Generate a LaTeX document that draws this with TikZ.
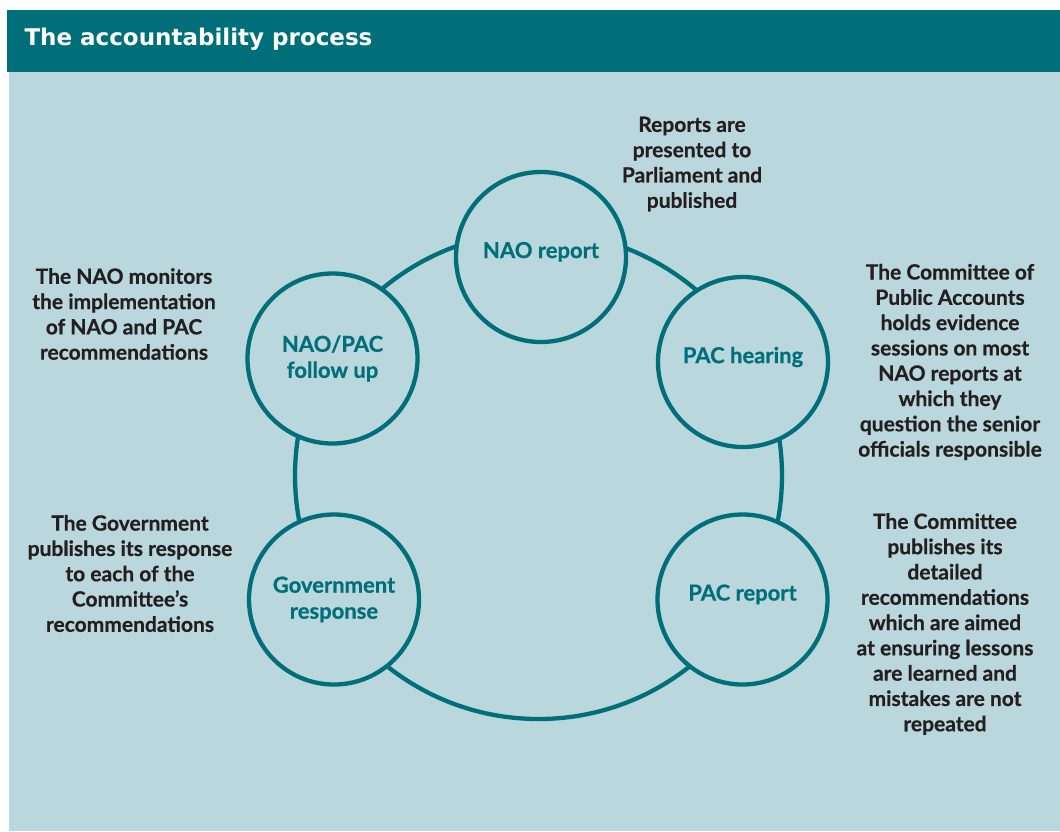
\documentclass[tikz,border=0pt]{standalone}
\usepackage{fontspec}
\setmainfont{Lato}[BoldFeatures={FakeBold=0.6}]
\newfontfamily\headfont{DejaVu Sans}
\usepackage{tikz}
\definecolor{naoteal}{RGB}{0,111,121}
\definecolor{naopale}{RGB}{186,215,221}
\definecolor{naoink}{RGB}{35,31,32}
\tikzstyle{stage} = [circle, draw=naoteal, line width=4.3pt, fill=naopale,
                 minimum size=170pt, inner sep=0pt, text=naoteal, align=center,
                 font=\bfseries\fontsize{22}{26}\selectfont]
\tikzstyle{cycle} = [naoteal, line width=4.3pt]
\tikzset{
	oneline/.style={text depth=14pt},
	note/.style={text=naoink, align=center,
		font=\bfseries\fontsize{21}{25.3}\selectfont},
}

\begin{document}
\begin{tikzpicture}[x=1pt, y=-1pt]
\useasboundingbox (0,0) rectangle (1060,831);

% panel and title bar
\fill[naopale] (9,72) rectangle (1060,831);
\fill[naoteal] (7,10) rectangle (1060,72);
\node[anchor=west, text=white, font=\headfont\bfseries\fontsize{23}{27}\selectfont]
	(title) at (21,39) {The accountability process};

% ring behind the stages
\coordinate (hub) at (538.5,475.5);
\path[cycle, draw] (hub) circle (243.5pt);

\node [stage, oneline] at (541,257) (nao) {NAO report};
\node [stage, oneline] at (743,362) (hearing) {PAC hearing};
\node [stage, oneline] at (742.5,599.5) (pacrep) {PAC report};
\node [stage] at (334,599.5) (govresp) {Government\\response};
\node [stage] at (332.5,358.5) (followup) {NAO/PAC\\follow up};

% notes
\node [note] at (692,164) (naonote) {Reports are\\presented to\\Parliament and\\published};
\node [note] at (950,362) (hearingnote) {The Committee of\\Public Accounts\\holds evidence\\sessions on most\\NAO reports at\\which they\\question the senior\\officials responsible};
\node [note] at (945,624) (pacrepnote) {The Committee\\publishes its\\detailed\\recommendations\\which are aimed\\at ensuring lessons\\are learned and\\mistakes are not\\repeated};
\node [note] at (130,573.5) (govnote) {The Government\\publishes its response\\to each of the\\Committee{\char39}s\\recommendations};
\node [note] at (124,314) (followupnote) {The NAO monitors\\the implementation\\of NAO and PAC\\recommendations};

\end{tikzpicture}
\end{document}
